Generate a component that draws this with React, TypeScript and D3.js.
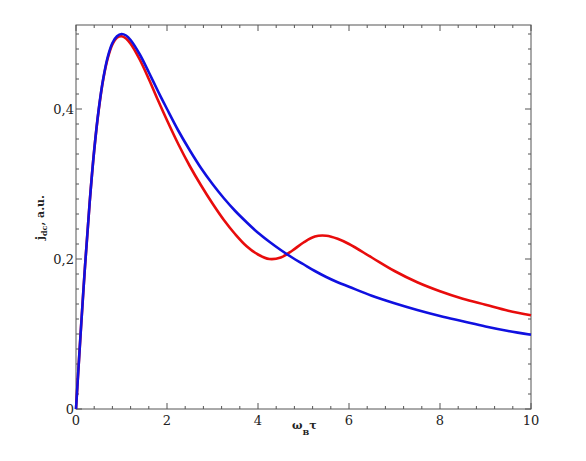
import React from "react";
import * as d3 from "d3";

const xValues = [0, 0.05, 0.1, 0.2, 0.3, 0.4, 0.5, 0.6, 0.7, 0.8, 0.9, 1.0, 1.1, 1.2, 1.4, 1.6, 1.8, 2.0, 2.25, 2.5, 2.75, 3.0, 3.25, 3.5, 3.75, 4.0, 4.25, 4.5, 4.75, 5.0, 5.25, 5.5, 5.75, 6.0, 6.5, 7.0, 7.5, 8.0, 8.5, 9.0, 9.5, 10];
const blueValues = [0, 0.05, 0.099, 0.192, 0.275, 0.345, 0.4, 0.441, 0.47, 0.488, 0.497, 0.5, 0.498, 0.492, 0.473, 0.449, 0.424, 0.4, 0.371, 0.345, 0.321, 0.3, 0.281, 0.264, 0.249, 0.235, 0.223, 0.212, 0.202, 0.193, 0.184, 0.176, 0.169, 0.163, 0.151, 0.141, 0.132, 0.124, 0.117, 0.11, 0.104, 0.099];
const redValues = [0, 0.05, 0.099, 0.192, 0.275, 0.345, 0.399, 0.44, 0.468, 0.486, 0.495, 0.497, 0.494, 0.487, 0.466, 0.44, 0.412, 0.385, 0.353, 0.324, 0.298, 0.274, 0.252, 0.233, 0.217, 0.206, 0.2, 0.202, 0.211, 0.222, 0.23, 0.231, 0.227, 0.22, 0.202, 0.184, 0.169, 0.157, 0.147, 0.139, 0.131, 0.125];
const xTickLabels = [0, 2, 4, 6, 8, 10];
const yTickLabels = [0, 0.2, 0.4];

const W = 586, H = 461;
const L = 76, R = 531, T = 25, B = 409;
const SERIF = "DejaVu Serif";

export default function App() {
  const x = d3.scaleLinear().domain([0, 10]).range([L, R]);
  const y = d3.scaleLinear().domain([0, 0.512]).range([B, T]);
  const line = d3.line<number>().x((_, i) => x(xValues[i])).y((d) => y(d)).curve(d3.curveCatmullRom.alpha(0.5));
  const xMinor = d3.range(0, 10.001, 0.4);
  const yMinor = d3.range(0, 0.5121, 0.02);
  const axisColor = "#555";
  const fmt = (v: number) => (v === 0 ? "0" : String(v).replace(".", ","));
  return (
    <svg width={W} height={H} style={{ position: "absolute", left: 0, top: 0, background: "#fff" }}>
      <rect x={L} y={T} width={R - L} height={B - T} fill="none" stroke={axisColor} strokeWidth={1} />
      {xMinor.map((v, i) => {
        const major = xTickLabels.some((t) => Math.abs(t - v) < 1e-6);
        const len = major ? 6 : 3;
        return (
          <g key={"xm" + i} stroke={axisColor} strokeWidth={1}>
            <line x1={x(v)} x2={x(v)} y1={B} y2={B - len} />
            <line x1={x(v)} x2={x(v)} y1={T} y2={T + len} />
          </g>
        );
      })}
      {yMinor.map((v, i) => {
        const major = yTickLabels.some((t) => Math.abs(t - v) < 1e-6);
        const len = major ? 6 : 3;
        return (
          <g key={"ym" + i} stroke={axisColor} strokeWidth={1}>
            <line x1={L} x2={L + len} y1={y(v)} y2={y(v)} />
            <line x1={R} x2={R - len} y1={y(v)} y2={y(v)} />
          </g>
        );
      })}
      {xTickLabels.map((v) => (
        <text key={"xl" + v} x={x(v)} y={B + 16} textAnchor="middle" fontSize={13} fill="#222" fontFamily={SERIF}>{v}</text>
      ))}
      {yTickLabels.map((v) => (
        <text key={"yl" + v} x={L - 2} y={y(v) + 5} textAnchor="end" fontSize={13} fill="#222" fontFamily={SERIF}>{fmt(v)}</text>
      ))}
      <path d={line(redValues) || ""} fill="none" stroke="#e80c0c" strokeWidth={2.6} />
      <path d={line(blueValues) || ""} fill="none" stroke="#1010e0" strokeWidth={2.6} />
      <text transform={`translate(44,${240}) rotate(-90)`} fontSize={11} fontWeight="bold" fill="#222" fontFamily={SERIF}>
        j<tspan fontSize={8} dy={3}>dc</tspan><tspan dy={-3}>, a.u.</tspan>
      </text>
      <text x={292} y={429} fontSize={11} fontWeight="bold" fill="#222" fontFamily={SERIF}>
        ω<tspan fontSize={8} dy={6}>B</tspan><tspan dy={-6} fontSize={11}>τ</tspan>
      </text>
    </svg>
  );
}
